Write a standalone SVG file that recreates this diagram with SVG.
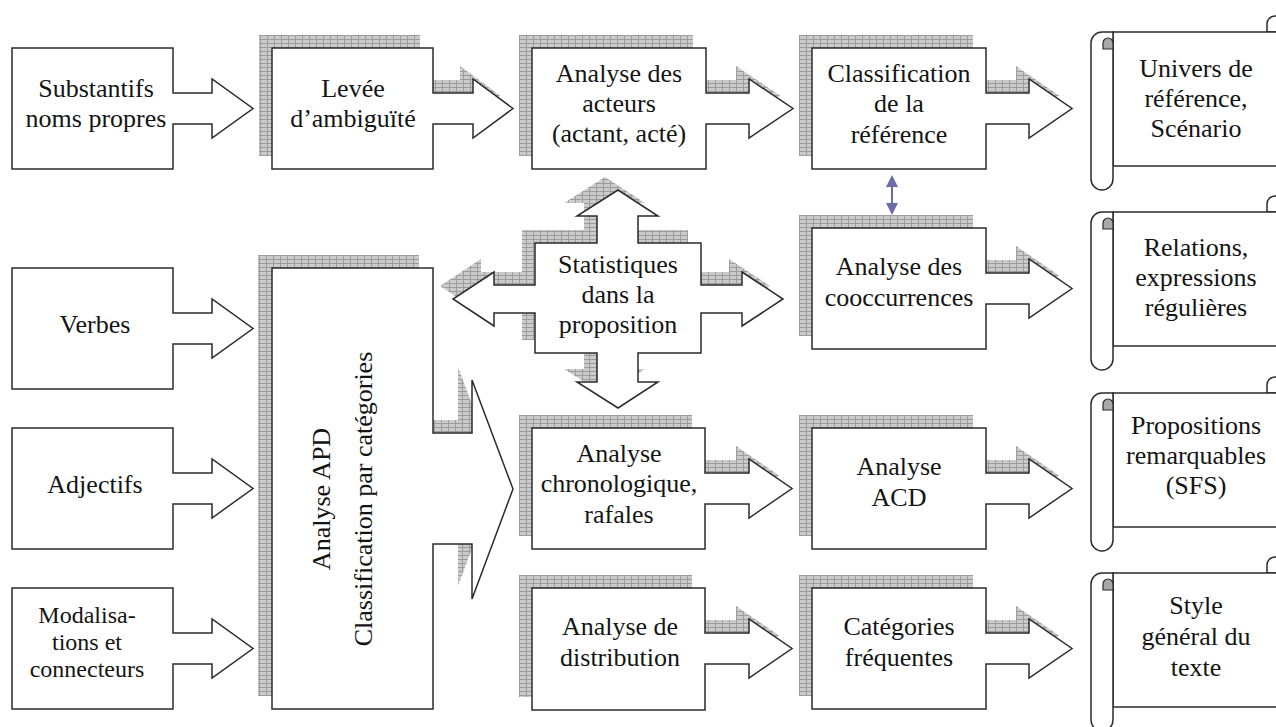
<svg xmlns="http://www.w3.org/2000/svg" width="1276" height="727" viewBox="0 0 1276 727">
<defs>
<pattern id="hatch" width="7" height="4" patternUnits="userSpaceOnUse">
<rect width="7" height="4" fill="#cbcbcb"/>
<path d="M0,0.5H7M0.5,0V4" stroke="#9c9c9c" stroke-width="1"/>
</pattern>
<style>
.box{fill:#fff;stroke:#2b2b2b;stroke-width:1.5;stroke-linejoin:miter}
.sh{fill:url(#hatch);stroke:none}
.t{font-family:"Liberation Serif","Times New Roman",serif;font-size:26px;fill:#141414;text-anchor:middle}
.sm{font-size:24px}
.curl{fill:#a8a8a8;stroke:#2b2b2b;stroke-width:1.2}
.dbl{stroke:#6c6ca8;stroke-width:2;fill:none}
.dblh{fill:#6c6ca8}
</style>
</defs>
<rect width="1276" height="727" fill="#fff"/>

<g id="substantifs">
<path class="box" d="M12,48 H173 V93 H212 V79 L253,108.5 L212,138 V124 H173 V169 H12 Z"/>
<text class="t"><tspan x="96" y="97">Substantifs</tspan><tspan x="96" y="127">noms propres</tspan></text>
</g>
<g id="verbes">
<path class="box" d="M12,268 H173 V313 H212 V299 L253,328.5 L212,358 V344 H173 V389 H12 Z"/>
<text class="t" x="95" y="333">Verbes</text>
</g>
<g id="adjectifs">
<path class="box" d="M12,428 H173 V473 H212 V459 L253,488.5 L212,518 V504 H173 V549 H12 Z"/>
<text class="t" x="95" y="493">Adjectifs</text>
</g>
<g id="modalisations">
<path class="box" d="M12,588 H173 V633 H212 V619 L253,648.5 L212,678 V664 H173 V709 H12 Z"/>
<text class="t sm"><tspan x="87" y="623">Modalisa-</tspan><tspan x="87" y="650">tions et</tspan><tspan x="87" y="677">connecteurs</tspan></text>
</g>

<g id="levee">
<path class="sh" transform="translate(-13,-13)" d="M272,48 H433 V93 H473 V79 L513,108.5 L473,138 V124 H433 V169 H272 Z"/>
<path class="box" d="M272,48 H433 V93 H473 V79 L513,108.5 L473,138 V124 H433 V169 H272 Z"/>
<text class="t"><tspan x="353" y="97">Levée</tspan><tspan x="353" y="127">d’ambiguïté</tspan></text>
</g>

<g id="apd">
<path class="sh" transform="translate(-14,-13)" d="M272,268 H433 V433 H472 V380 L513,489 L472,599 V544 H433 V709 H272 Z"/>
<path class="box" d="M272,268 H433 V433 H472 V380 L513,489 L472,599 V544 H433 V709 H272 Z"/>
<text class="t" transform="translate(330,499) rotate(-90)" x="0" y="0">Analyse APD</text>
<text class="t" transform="translate(372,499) rotate(-90)" x="0" y="0">Classification par catégories</text>
</g>

<g id="acteurs">
<path class="sh" transform="translate(-13,-13)" d="M532,48 H706 V93 H749 V79 L793,108.5 L749,138 V124 H706 V169 H532 Z"/>
<path class="box" d="M532,48 H706 V93 H749 V79 L793,108.5 L749,138 V124 H706 V169 H532 Z"/>
<text class="t"><tspan x="619" y="82">Analyse des</tspan><tspan x="619" y="112">acteurs</tspan><tspan x="619" y="142">(actant, acté)</tspan></text>
</g>

<g id="statistiques">
<path class="sh" transform="translate(-13,-13)" d="M535,243 H597 V216 H577 L618,190 L658,216 H638 V243 H701 V285 H742 V272 L783,299 L742,326 V313 H701 V353 H638 V382 H658 L618,408 L577,382 H597 V353 H535 V313 H494 V326 L453,299 L494,272 V285 H535 Z"/>
<path class="box" d="M535,243 H597 V216 H577 L618,190 L658,216 H638 V243 H701 V285 H742 V272 L783,299 L742,326 V313 H701 V353 H638 V382 H658 L618,408 L577,382 H597 V353 H535 V313 H494 V326 L453,299 L494,272 V285 H535 Z"/>
<text class="t"><tspan x="618" y="273">Statistiques</tspan><tspan x="618" y="303">dans la</tspan><tspan x="618" y="333">proposition</tspan></text>
</g>

<g id="chronologique">
<path class="sh" transform="translate(-13,-13)" d="M532,428 H705 V473 H749 V459 L792,488.5 L749,518 V504 H705 V549 H532 Z"/>
<path class="box" d="M532,428 H705 V473 H749 V459 L792,488.5 L749,518 V504 H705 V549 H532 Z"/>
<text class="t"><tspan x="619" y="462">Analyse</tspan><tspan x="619" y="492">chronologique,</tspan><tspan x="619" y="523">rafales</tspan></text>
</g>

<g id="distribution">
<path class="sh" transform="translate(-13,-13)" d="M532,588 H705 V633 H749 V619 L792,648.5 L749,678 V664 H705 V710 H532 Z"/>
<path class="box" d="M532,588 H705 V633 H749 V619 L792,648.5 L749,678 V664 H705 V710 H532 Z"/>
<text class="t"><tspan x="620" y="635">Analyse de</tspan><tspan x="620" y="666">distribution</tspan></text>
</g>

<g id="classification">
<path class="sh" transform="translate(-13,-13)" d="M812,48 H986 V93 H1029 V79 L1072,108.5 L1029,138 V124 H986 V169 H812 Z"/>
<path class="box" d="M812,48 H986 V93 H1029 V79 L1072,108.5 L1029,138 V124 H986 V169 H812 Z"/>
<text class="t"><tspan x="899" y="82">Classification</tspan><tspan x="899" y="112">de la</tspan><tspan x="899" y="143">référence</tspan></text>
</g>

<g id="cooccurrences">
<path class="sh" transform="translate(-13,-13)" d="M812,228 H986 V273 H1029 V259 L1072,288.5 L1029,318 V304 H986 V349 H812 Z"/>
<path class="box" d="M812,228 H986 V273 H1029 V259 L1072,288.5 L1029,318 V304 H986 V349 H812 Z"/>
<text class="t"><tspan x="899" y="275">Analyse des</tspan><tspan x="899" y="306">cooccurrences</tspan></text>
</g>

<g id="acd">
<path class="sh" transform="translate(-13,-13)" d="M812,428 H986 V473 H1029 V459 L1072,488.5 L1029,518 V504 H986 V549 H812 Z"/>
<path class="box" d="M812,428 H986 V473 H1029 V459 L1072,488.5 L1029,518 V504 H986 V549 H812 Z"/>
<text class="t"><tspan x="899" y="475">Analyse</tspan><tspan x="899" y="506">ACD</tspan></text>
</g>

<g id="categories">
<path class="sh" transform="translate(-13,-13)" d="M812,588 H986 V633 H1029 V619 L1072,648.5 L1029,678 V664 H986 V709 H812 Z"/>
<path class="box" d="M812,588 H986 V633 H1029 V619 L1072,648.5 L1029,678 V664 H986 V709 H812 Z"/>
<text class="t"><tspan x="899" y="635">Catégories</tspan><tspan x="899" y="666">fréquentes</tspan></text>
</g>

<g id="univers">
<path class="box" d="M1267,32 V24 A8,8 0 0 1 1283,24 V32 Z"/>
<rect class="box" x="1113" y="32" width="190" height="134"/>
<path class="box" d="M1091,43 A11,11 0 0 1 1102,32 H1113 V179 A11,11 0 0 1 1091,179 Z"/>
<path class="curl" d="M1103,49 V43 A5,5 0 0 1 1113,43 V49 Z"/>
<text class="t"><tspan x="1196" y="77">Univers de</tspan><tspan x="1196" y="107">référence,</tspan><tspan x="1196" y="137">Scénario</tspan></text>
</g>

<g id="relations">
<path class="box" d="M1267,212 V204 A8,8 0 0 1 1283,204 V212 Z"/>
<rect class="box" x="1113" y="212" width="190" height="134"/>
<path class="box" d="M1091,223 A11,11 0 0 1 1102,212 H1113 V359 A11,11 0 0 1 1091,359 Z"/>
<path class="curl" d="M1103,229 V223 A5,5 0 0 1 1113,223 V229 Z"/>
<text class="t"><tspan x="1196" y="256">Relations,</tspan><tspan x="1196" y="286">expressions</tspan><tspan x="1196" y="316">régulières</tspan></text>
</g>

<g id="propositions">
<path class="box" d="M1267,393 V385 A8,8 0 0 1 1283,385 V393 Z"/>
<rect class="box" x="1113" y="393" width="190" height="134"/>
<path class="box" d="M1091,404 A11,11 0 0 1 1102,393 H1113 V540 A11,11 0 0 1 1091,540 Z"/>
<path class="curl" d="M1103,410 V404 A5,5 0 0 1 1113,404 V410 Z"/>
<text class="t"><tspan x="1196" y="434">Propositions</tspan><tspan x="1196" y="464">remarquables</tspan><tspan x="1196" y="494">(SFS)</tspan></text>
</g>

<g id="style">
<path class="box" d="M1267,573 V565 A8,8 0 0 1 1283,565 V573 Z"/>
<rect class="box" x="1113" y="573" width="190" height="134"/>
<path class="box" d="M1091,584 A11,11 0 0 1 1102,573 H1113 V720 A11,11 0 0 1 1091,720 Z"/>
<path class="curl" d="M1103,590 V584 A5,5 0 0 1 1113,584 V590 Z"/>
<text class="t"><tspan x="1196" y="614">Style</tspan><tspan x="1196" y="645">général du</tspan><tspan x="1196" y="676">texte</tspan></text>
</g>

<g id="connectors">
<line class="dbl" x1="892" y1="184" x2="892" y2="206"/>
<polygon class="dblh" points="886,187 892,175 898,187"/>
<polygon class="dblh" points="886,203 892,215 898,203"/>
</g>
</svg>
